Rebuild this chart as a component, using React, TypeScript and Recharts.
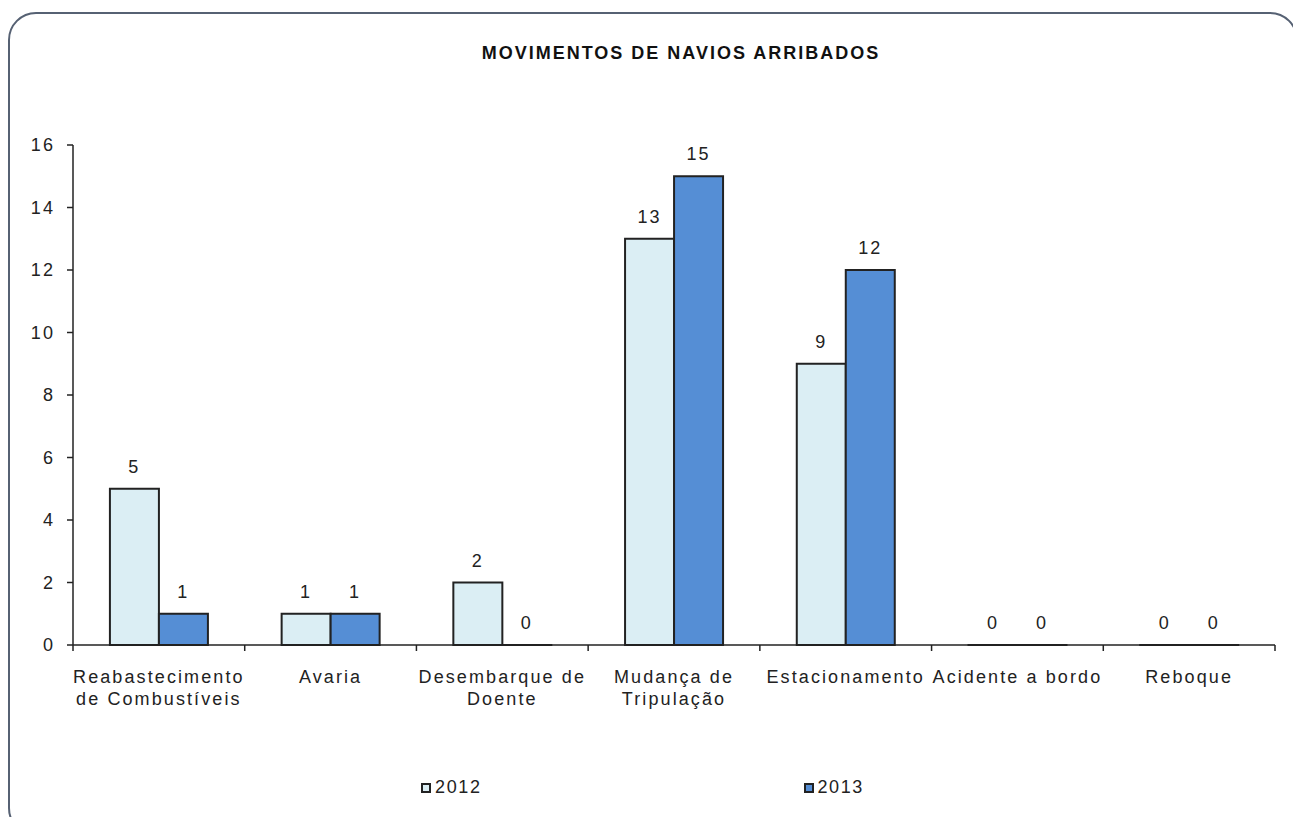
import { BarChart, Bar, XAxis, YAxis, Legend, LabelList } from "recharts";

const categories = [
  "Reabastecimento\nde Combustíveis",
  "Avaria",
  "Desembarque de\nDoente",
  "Mudança de\nTripulação",
  "Estacionamento",
  "Acidente a bordo",
  "Reboque",
];
const values2012 = [5, 1, 2, 13, 9, 0, 0];
const values2013 = [1, 1, 0, 15, 12, 0, 0];
const yTicks = [0, 2, 4, 6, 8, 10, 12, 14, 16];

const data = categories.map((name, i) => ({
  name,
  y2012: values2012[i],
  y2013: values2013[i],
}));

const W = 1301;
const H = 825;
const PLOT_LEFT = 73;
const PLOT_RIGHT = 1275;
const PLOT_TOP = 145;
const PLOT_BOTTOM = 645;
const X_AXIS_H = 60;
const BAND = (PLOT_RIGHT - PLOT_LEFT) / categories.length;
const FONT = "'Liberation Sans', Arial, sans-serif";
const TEXT = "#222";
const textStyle = { fontFamily: FONT, fontSize: 18, fill: TEXT, letterSpacing: 2.1 };

function CategoryTick(props: any) {
  const { x, y, payload, index } = props;
  const lines = String(payload.value).split("\n");
  const left = x - BAND / 2;
  const right = x + BAND / 2;
  return (
    <g>
      <line x1={left} x2={left} y1={y} y2={y + 6} stroke="#222" strokeWidth={1.5} />
      {index === categories.length - 1 && (
        <line x1={right} x2={right} y1={y} y2={y + 6} stroke="#222" strokeWidth={1.5} />
      )}
      <text x={x} y={y + 38} textAnchor="middle" style={textStyle}>
        {lines.map((l, i) => (
          <tspan key={i} x={x} dy={i === 0 ? 0 : 22}>
            {l}
          </tspan>
        ))}
      </text>
    </g>
  );
}

function LegendContent() {
  const items = [
    { label: "2012", color: "#dbeef4" },
    { label: "2013", color: "#558ed5" },
  ];
  return (
    <div style={{ display: "flex", justifyContent: "center", gap: 322, marginLeft: -16 }}>
      {items.map((it) => (
        <div key={it.label} style={{ display: "flex", alignItems: "center" }}>
          <span
            style={{
              width: 6,
              height: 6,
              background: it.color,
              border: "2px solid #222",
              marginRight: 4,
            }}
          />
          <span style={{ fontFamily: FONT, fontSize: 18, color: TEXT, letterSpacing: 1.6 }}>
            {it.label}
          </span>
        </div>
      ))}
    </div>
  );
}

export default function App() {
  return (
    <div style={{ position: "relative", width: W, height: H, margin: -8, background: "#fff" }}>
      <div
        style={{
          position: "absolute",
          left: 8,
          top: 12,
          width: 1286,
          height: 820,
          border: "2px solid #566173",
          borderRadius: 28,
          boxSizing: "content-box",
        }}
      />
      <div
        style={{
          position: "absolute",
          left: 0,
          width: 1362,
          top: 43,
          textAlign: "center",
          fontFamily: FONT,
          fontWeight: "bold",
          fontSize: 18,
          color: "#111",
          letterSpacing: 2,
        }}
      >
        MOVIMENTOS DE NAVIOS ARRIBADOS
      </div>
      <div style={{ position: "absolute", left: 0, top: 0 }}>
        <BarChart
          width={W}
          height={H}
          data={data}
          margin={{
            top: PLOT_TOP,
            right: W - PLOT_RIGHT,
            bottom: H - PLOT_BOTTOM - X_AXIS_H,
            left: PLOT_LEFT - 40,
          }}
          barCategoryGap="21.5%"
          barGap={0}
        >
          <XAxis
            dataKey="name"
            interval={0}
            tickLine={false}
            tickSize={0}
            tickMargin={0}
            axisLine={{ stroke: "#222", strokeWidth: 1.5 }}
            tick={<CategoryTick />}
            height={X_AXIS_H}
          />
          <YAxis
            width={40}
            domain={[0, 16]}
            ticks={yTicks}
            interval={0}
            tickSize={6}
            tickMargin={12}
            axisLine={{ stroke: "#222", strokeWidth: 1.5 }}
            tickLine={{ stroke: "#222", strokeWidth: 1.5 }}
            tick={textStyle}
          />
          <Legend
            verticalAlign="middle"
            align="center"
            content={<LegendContent />}
            wrapperStyle={{ top: 777, left: 0, width: W }}
          />
          <Bar
            dataKey="y2012"
            name="2012"
            fill="#dbeef4"
            stroke="#222"
            strokeWidth={2}
            minPointSize={0.01}
            isAnimationActive={false}
          >
            <LabelList dataKey="y2012" position="top" offset={16} style={textStyle} />
          </Bar>
          <Bar
            dataKey="y2013"
            name="2013"
            fill="#558ed5"
            stroke="#222"
            strokeWidth={2}
            minPointSize={0.01}
            isAnimationActive={false}
          >
            <LabelList dataKey="y2013" position="top" offset={16} style={textStyle} />
          </Bar>
        </BarChart>
      </div>
    </div>
  );
}
